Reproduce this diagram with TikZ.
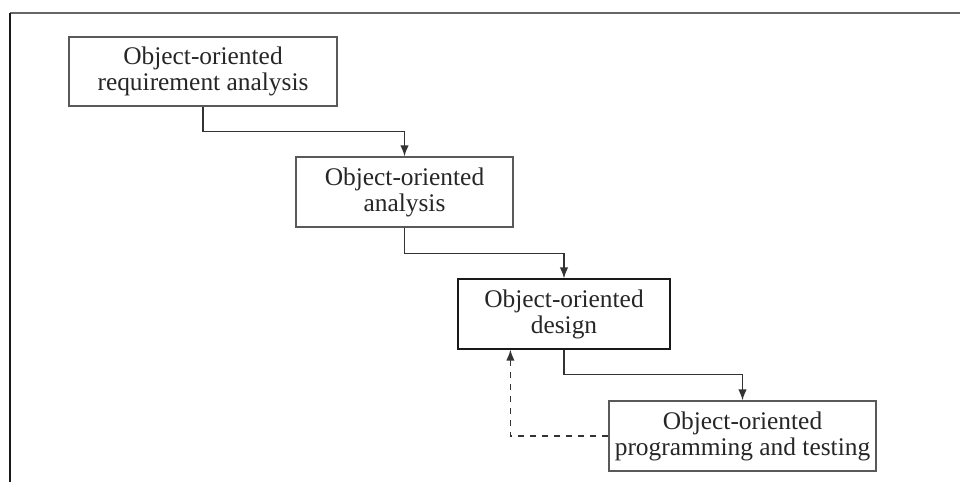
\documentclass[tikz,border=0pt]{standalone}
\usepackage{fontspec}
\setmainfont{Liberation Serif}
\usetikzlibrary{arrows.meta}

\begin{document}
\begin{tikzpicture}
			[x=0.5pt,y=-0.5pt]
			\tikzstyle{every node}=[rectangle, draw=black!65, line width=0.6pt, text=black!85, align=center, inner sep=0pt, minimum height=35pt, font=\fontsize{12.7}{13}\selectfont]
			\tikzstyle{arr}=[draw=black!80, line width=0.7pt, -{Latex[length=5.5pt,width=4.2pt]}]
			\useasboundingbox (0,0) rectangle (960,482);
			
			% frame
			\draw[black!60, line width=0.8pt] (10,13) -- (960,13);
			\draw[black!90, line width=0.8pt] (10,13) -- (10,482);
			
			\node[minimum width=134pt, minimum height=34.5pt] (req) at (203,71.5) {Object-oriented\\requirement analysis};
			\node[minimum width=108.5pt] (ana) at (404.5,192) {Object-oriented\\analysis};
			\node[minimum width=106pt, draw=black!90] (des) at (564,314) {Object-oriented\\design};
			\node[minimum width=133.5pt] (prog) at (742.5,436) {Object-oriented\\programming and testing};
			
			\draw[arr] (req.south) -- ++(0,25) -| (ana.north);
			\draw[arr] (ana.south) -- ++(0,26) -| (des.north);
			\draw[arr] (des.south) -- ++(0,25) -| (prog.north);
			\draw[arr, dashed] (prog.west) -| ([xshift=26.5pt]des.south west);
		\end{tikzpicture}
\end{document}
